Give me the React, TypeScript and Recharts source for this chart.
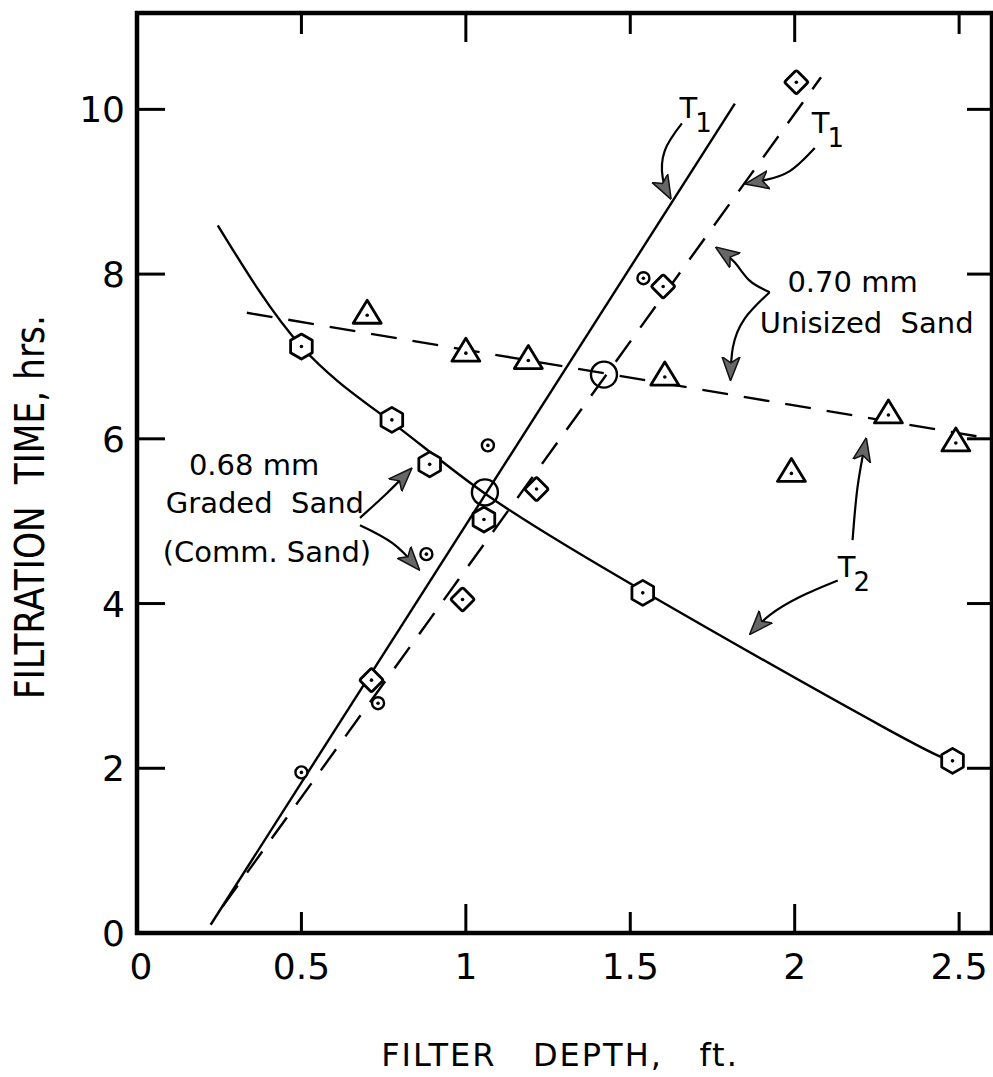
import { ComposedChart, XAxis, YAxis, Line, Scatter, ReferenceArea } from "recharts";

const FONT = "DejaVu Sans";
const X_MAX = 2.6;
const Y_MAX = 11.17;

const xTicks = [0, 0.5, 1, 1.5, 2, 2.5];
const yTicks = [0, 2, 4, 6, 8, 10];
const edgeXTicks = [0.5, 1, 1.5, 2, 2.5];
const edgeYTicks = [2, 4, 6, 8, 10];

// 0.68 mm graded sand (commercial)
const gradedT1 = [
  { x: 0.5, y: 1.95 },
  { x: 0.733, y: 2.79 },
  { x: 0.88, y: 4.6 },
  { x: 1.067, y: 5.92 },
  { x: 1.54, y: 7.95 },
];
const gradedT2 = [
  { x: 0.5, y: 7.12 },
  { x: 0.775, y: 6.23 },
  { x: 0.89, y: 5.69 },
  { x: 1.055, y: 5.02 },
  { x: 1.538, y: 4.13 },
  { x: 2.48, y: 2.09 },
];
// 0.70 mm unisized sand
const unisizedT1 = [
  { x: 0.713, y: 3.07 },
  { x: 0.99, y: 4.05 },
  { x: 1.215, y: 5.39 },
  { x: 1.6, y: 7.85 },
  { x: 2.005, y: 10.33 },
];
const unisizedT2 = [
  { x: 0.7, y: 7.5 },
  { x: 1.0, y: 7.04 },
  { x: 1.19, y: 6.95 },
  { x: 1.605, y: 6.75 },
  { x: 1.99, y: 5.58 },
  { x: 2.285, y: 6.29 },
  { x: 2.49, y: 5.95 },
];
// T1 = T2 crossing points
const crossings = [
  { x: 1.058, y: 5.35 },
  { x: 1.42, y: 6.78 },
];

// fitted lines / curve as drawn
const gradedT1Fit = [
  { x: 0.224, y: 0.1 },
  { x: 1.818, y: 10.07 },
];
const unisizedT1Fit = [
  { x: 0.26, y: 0.32 },
  { x: 2.08, y: 10.39 },
];
const unisizedT2Fit = [
  { x: 0.334, y: 7.53 },
  { x: 2.6, y: 6.0 },
];
const gradedT2Curve = [
  { x: 0.246, y: 8.59 },
  { x: 0.5, y: 7.12 },
  { x: 0.775, y: 6.2 },
  { x: 1.06, y: 5.33 },
  { x: 1.54, y: 4.15 },
  { x: 2.27, y: 2.5 },
  { x: 2.48, y: 2.09 },
];

// annotation arrows
const arrows = [
  [
    { x: 1.657, y: 9.83 },
    { x: 1.605, y: 9.5 },
    { x: 1.599, y: 9.16 },
    { x: 1.62, y: 8.94 },
  ],
  [
    { x: 2.061, y: 9.53 },
    { x: 1.985, y: 9.25 },
    { x: 1.909, y: 9.14 },
    { x: 1.857, y: 9.1 },
  ],
  [
    { x: 1.924, y: 7.78 },
    { x: 1.863, y: 7.92 },
    { x: 1.818, y: 8.14 },
    { x: 1.766, y: 8.31 },
  ],
  [
    { x: 1.924, y: 7.78 },
    { x: 1.848, y: 7.46 },
    { x: 1.812, y: 7.11 },
    { x: 1.805, y: 6.74 },
  ],
  [
    { x: 2.176, y: 4.77 },
    { x: 2.191, y: 5.41 },
    { x: 2.216, y: 5.98 },
  ],
  [
    { x: 2.131, y: 4.28 },
    { x: 2.015, y: 4.08 },
    { x: 1.924, y: 3.86 },
    { x: 1.869, y: 3.65 },
  ],
  [
    { x: 0.678, y: 5.04 },
    { x: 0.76, y: 5.34 },
    { x: 0.83, y: 5.62 },
  ],
  [
    { x: 0.678, y: 4.95 },
    { x: 0.778, y: 4.73 },
    { x: 0.854, y: 4.43 },
  ],
];

const notes = [
  { x: 2.176, y: 7.78, text: "0.70 mm" },
  { x: 2.219, y: 7.29, text: "Unisized\u00a0 Sand" },
  { x: 0.356, y: 5.56, text: "0.68 mm" },
  { x: 0.389, y: 5.1, text: "Graded\u00a0 Sand" },
  { x: 0.395, y: 4.51, text: "(Comm. Sand)" },
];
const tLabels = [
  { x: 1.65, y: 9.89, sub: "1" },
  { x: 2.052, y: 9.71, sub: "1" },
  { x: 2.131, y: 4.32, sub: "2" },
];

// inward tick marks on all four sides of the frame
const bottomTickPts = edgeXTicks.map((x) => ({ x, y: 0 }));
const topTickPts = edgeXTicks.map((x) => ({ x, y: Y_MAX }));
const leftTickPts = edgeYTicks.map((y) => ({ x: 0, y }));
const rightTickPts = edgeYTicks.map((y) => ({ x: X_MAX, y }));

const BottomLabel = (props: any) => {
  const { x, y, payload } = props;
  const v = payload.value;
  return (
    <text x={v === 0 ? x + 4 : x} y={y + 46} textAnchor="middle" fontSize={36} fontFamily={FONT} fill="#000">
      {String(v)}
    </text>
  );
};

const LeftLabel = (props: any) => {
  const { x, y, payload } = props;
  return (
    <text x={x - 12} y={y + 13} textAnchor="end" fontSize={36} fontFamily={FONT} fill="#000">
      {String(payload.value)}
    </text>
  );
};

const tickLen = (v: number) => (Number.isInteger(v) ? 29 : 21);

const BottomMark = (props: any) => {
  const { cx, cy, payload } = props;
  return <line x1={cx} y1={cy} x2={cx} y2={cy - tickLen(payload.x)} stroke="#000" strokeWidth={3} />;
};
const TopMark = (props: any) => {
  const { cx, cy, payload } = props;
  return <line x1={cx} y1={cy} x2={cx} y2={cy + tickLen(payload.x)} stroke="#000" strokeWidth={3} />;
};
const LeftMark = (props: any) => {
  const { cx, cy } = props;
  return <line x1={cx} y1={cy} x2={cx + 28} y2={cy} stroke="#000" strokeWidth={3} />;
};
const RightMark = (props: any) => {
  const { cx, cy } = props;
  return <line x1={cx} y1={cy} x2={cx - 25} y2={cy} stroke="#000" strokeWidth={3} />;
};

const dotMark = (cx: number, cy: number) => <circle cx={cx} cy={cy} r={1.8} fill="#000" />;

const Hexagon = (props: any) => {
  const { cx, cy } = props;
  const r = 12.5;
  const pts = [0, 1, 2, 3, 4, 5]
    .map((i) => {
      const a = (Math.PI / 3) * i - Math.PI / 2;
      return `${cx + r * Math.cos(a)},${cy + r * Math.sin(a)}`;
    })
    .join(" ");
  return (
    <g>
      <polygon points={pts} fill="#fff" stroke="#000" strokeWidth={2.8} strokeLinejoin="round" />
      {dotMark(cx, cy)}
    </g>
  );
};

const Triangle = (props: any) => {
  const { cx, cy } = props;
  return (
    <g>
      <polygon
        points={`${cx},${cy - 15} ${cx - 14},${cy + 8} ${cx + 14},${cy + 8}`}
        fill="#fff"
        stroke="#000"
        strokeWidth={2.8}
        strokeLinejoin="round"
      />
      {dotMark(cx, cy)}
    </g>
  );
};

const Diamond = (props: any) => {
  const { cx, cy } = props;
  return (
    <g>
      <rect
        x={cx - 8.5}
        y={cy - 8.5}
        width={17}
        height={17}
        rx={2}
        transform={`rotate(45 ${cx} ${cy})`}
        fill="#fff"
        stroke="#000"
        strokeWidth={2.8}
      />
      {dotMark(cx, cy)}
    </g>
  );
};

const SmallCircle = (props: any) => {
  const { cx, cy } = props;
  return (
    <g>
      <circle cx={cx} cy={cy} r={6} fill="#fff" stroke="#000" strokeWidth={2.4} />
      {dotMark(cx, cy)}
    </g>
  );
};

const BigCircle = (props: any) => {
  const { cx, cy } = props;
  return <circle cx={cx} cy={cy} r={13} fill="none" stroke="#000" strokeWidth={2.4} />;
};

const NoteText = (props: any) => {
  const { cx, cy, payload } = props;
  return (
    <text x={cx} y={cy} textAnchor="middle" fontSize={29} fontFamily={FONT} fill="#000">
      {payload.text}
    </text>
  );
};

const TText = (props: any) => {
  const { cx, cy, payload } = props;
  return (
    <text x={cx} y={cy} fontSize={29} fontFamily={FONT} fill="#000">
      T
      <tspan fontSize={26} dy={14} dx={-2}>
        {payload.sub}
      </tspan>
    </text>
  );
};

export default function App() {
  return (
    <div style={{ position: "absolute", left: 0, top: 0, width: 993, height: 1077, background: "#fff" }}>
      <svg width={0} height={0} style={{ position: "absolute" }}>
        <defs>
          <marker
            id="arrowHead"
            viewBox="0 0 24 20"
            refX={21}
            refY={10}
            markerWidth={24}
            markerHeight={20}
            markerUnits="userSpaceOnUse"
            orient="auto"
          >
            <path d="M0,1 L24,10 L0,19 L6,10 Z" fill="#666" stroke="#111" strokeWidth={1.5} strokeLinejoin="round" />
          </marker>
        </defs>
      </svg>
      <ComposedChart width={993} height={1077} margin={{ top: 13, right: 1, bottom: 0, left: 0 }}>
        <XAxis
          dataKey="x"
          type="number"
          domain={[0, X_MAX]}
          ticks={xTicks}
          interval={0}
          allowDataOverflow
          height={144}
          tickSize={0}
          tickMargin={0}
          tickLine={false}
          axisLine={false}
          tick={<BottomLabel />}
        />
        <YAxis
          dataKey="y"
          type="number"
          domain={[0, Y_MAX]}
          ticks={yTicks}
          interval={0}
          allowDataOverflow
          width={137}
          tickSize={0}
          tickMargin={0}
          tickLine={false}
          axisLine={false}
          tick={<LeftLabel />}
        />

        <ReferenceArea
          x1={0}
          x2={X_MAX}
          y1={0}
          y2={Y_MAX}
          fill="none"
          fillOpacity={0}
          stroke="#000"
          strokeWidth={4.5}
          ifOverflow="visible"
        />

        <Line data={gradedT1Fit} dataKey="y" type="linear" stroke="#000" strokeWidth={2.4} dot={false} activeDot={false} isAnimationActive={false} />
        <Line data={unisizedT1Fit} dataKey="y" type="linear" stroke="#000" strokeWidth={2.4} strokeDasharray="26 16" dot={false} activeDot={false} isAnimationActive={false} />
        <Line data={unisizedT2Fit} dataKey="y" type="linear" stroke="#000" strokeWidth={2.4} strokeDasharray="26 16" dot={false} activeDot={false} isAnimationActive={false} />
        <Line data={gradedT2Curve} dataKey="y" type="natural" stroke="#000" strokeWidth={2.4} dot={false} activeDot={false} isAnimationActive={false} />

        {arrows.map((a, i) => (
          <Line
            key={`arrow-${i}`}
            data={a}
            dataKey="y"
            type="natural"
            stroke="#000"
            strokeWidth={2.2}
            dot={false}
            activeDot={false}
            markerEnd="url(#arrowHead)"
            isAnimationActive={false}
          />
        ))}

        <Scatter data={bottomTickPts} shape={<BottomMark />} isAnimationActive={false} />
        <Scatter data={topTickPts} shape={<TopMark />} isAnimationActive={false} />
        <Scatter data={leftTickPts} shape={<LeftMark />} isAnimationActive={false} />
        <Scatter data={rightTickPts} shape={<RightMark />} isAnimationActive={false} />

        <Scatter data={crossings} shape={<BigCircle />} isAnimationActive={false} />
        <Scatter data={gradedT1} shape={<SmallCircle />} isAnimationActive={false} />
        <Scatter data={gradedT2} shape={<Hexagon />} isAnimationActive={false} />
        <Scatter data={unisizedT1} shape={<Diamond />} isAnimationActive={false} />
        <Scatter data={unisizedT2} shape={<Triangle />} isAnimationActive={false} />
        <Scatter data={notes} shape={<NoteText />} isAnimationActive={false} />
        <Scatter data={tLabels} shape={<TText />} isAnimationActive={false} />
      </ComposedChart>
      <div
        style={{
          position: "absolute",
          left: 0,
          top: 1040,
          width: 1120,
          textAlign: "center",
          fontFamily: FONT,
          fontSize: 32,
          letterSpacing: 2,
          lineHeight: "30px",
          whiteSpace: "pre",
          color: "#000",
        }}
      >
        {"FILTER   DEPTH,   ft."}
      </div>
      <div
        style={{
          position: "absolute",
          left: 30,
          top: 507,
          fontFamily: FONT,
          fontSize: 40,
          lineHeight: "40px",
          whiteSpace: "pre",
          color: "#000",
          transform: "translate(-50%, -50%) rotate(-90deg) scaleX(0.86)",
        }}
      >
        {"FILTRATION  TIME, hrs."}
      </div>
    </div>
  );
}
